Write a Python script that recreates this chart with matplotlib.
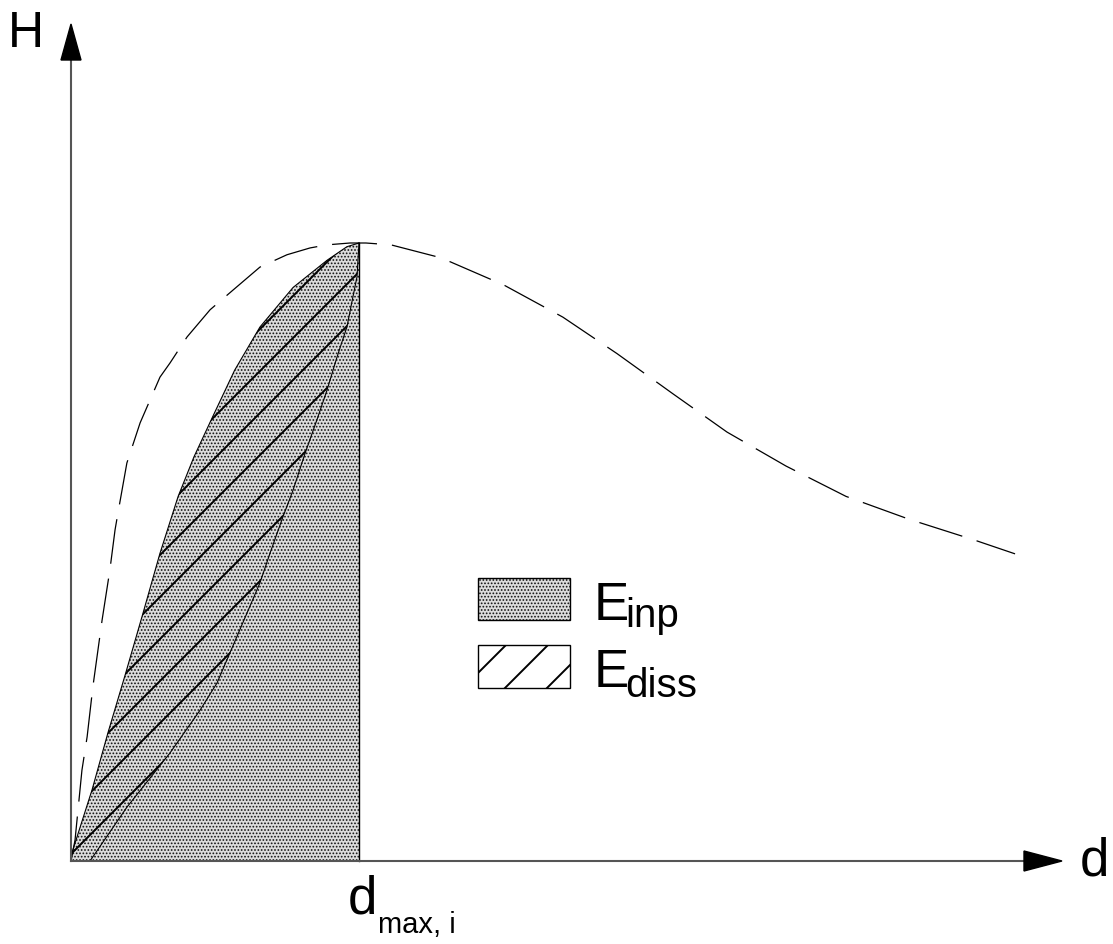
import matplotlib.pyplot as plt
from matplotlib.patches import Polygon, Rectangle
import numpy as np

plt.rcParams['font.family'] = ['Liberation Sans', 'DejaVu Sans']
plt.rcParams['hatch.linewidth'] = 0.8

# data, normalised: d / d_max and H / H_max
d_max = 1.0
H_max = 1.0

# envelope (dashed)
env_d = [0.0, 0.014, 0.038, 0.056, 0.076, 0.108, 0.135, 0.153, 0.163, 0.194,
         0.240, 0.309, 0.344, 0.403, 0.483, 0.563, 0.656, 0.750, 0.830,
         0.889, 0.969, 1.024, 1.111, 1.285, 1.503, 1.708, 1.896, 2.090,
         2.278, 2.483, 2.691, 2.910, 3.139, 3.278]
env_H = [0.0, 0.034, 0.147, 0.201, 0.282, 0.390, 0.471, 0.536, 0.563, 0.644,
         0.709, 0.783, 0.806, 0.848, 0.892, 0.924, 0.961, 0.981, 0.992,
         0.997, 1.000, 1.000, 0.997, 0.976, 0.932, 0.880, 0.821, 0.756,
         0.694, 0.639, 0.590, 0.553, 0.519, 0.497]

# loading branch
up_d = [0.0, 0.003, 0.073, 0.128, 0.188, 0.250, 0.309, 0.372, 0.427,
        0.492, 0.568, 0.656, 0.771, 0.889, 0.958, 1.0]
up_H = [0.0, 0.013, 0.115, 0.207, 0.301, 0.401, 0.498, 0.590, 0.654,
        0.719, 0.794, 0.864, 0.928, 0.972, 0.994, 1.0]

# unloading branch
down_d = [1.0, 0.993, 0.979, 0.958, 0.924, 0.889, 0.854, 0.813, 0.771, 0.736,
          0.691, 0.656, 0.552, 0.507, 0.448, 0.344, 0.194, 0.066]
down_H = [1.0, 0.945, 0.913, 0.864, 0.816, 0.762, 0.714, 0.660, 0.600, 0.557,
          0.498, 0.450, 0.337, 0.288, 0.244, 0.175, 0.087, 0.0]

# pixel -> data helpers for layout
X0, Y0, SX, SY = 71, 861, 288, 618
def px(x):
    return (x - X0) / SX
def py(y):
    return (Y0 - y) / SY

fig = plt.figure(figsize=(11.13, 9.44), dpi=100)
ax = fig.add_axes([0, 0, 1, 1])
ax.set_xlim(px(0), px(1113))
ax.set_ylim(py(944), py(0))
ax.axis('off')

STIPPLE = dict(facecolor='#dcdcdc', edgecolor='#111111', linewidth=0, hatch='.....')

# stippled E_inp area under the loading branch
ax.fill_between(up_d, up_H, 0, zorder=1, **STIPPLE)
ax.plot([d_max, d_max], [0, H_max], color='black', lw=1.0, zorder=3)

# hysteresis loop, hatched (E_diss)
loop = Polygon(list(zip(up_d, up_H)) + list(zip(down_d, down_H)),
               closed=True, facecolor='none', edgecolor='none')
ax.add_patch(loop)
slope = SX / SY
step = 42 / SX
for k in range(10):
    d0 = px(64) - k * step
    xs = np.array([d0, d0 + 3])
    ln, = ax.plot(xs, slope * (xs - d0), color='black', lw=1.4, zorder=3)
    ln.set_clip_path(loop)

ax.plot(up_d, up_H, color='black', lw=0.8, zorder=4)
ax.plot(down_d, down_H, color='black', lw=0.8, zorder=4)

# envelope
ax.plot(env_d, env_H, color='black', lw=0.9, dashes=(36, 12), zorder=4)

# axes with arrows
ax.plot([px(71), px(71)], [py(861), py(58)], color='#555555', lw=1.5, zorder=5)
ax.plot([px(71), px(1026)], [py(861), py(861)], color='#555555', lw=1.5, zorder=5)
ax.add_patch(Polygon([(px(61), py(60)), (px(81), py(60)), (px(71), py(24))],
                     closed=True, color='black', zorder=6))
ax.add_patch(Polygon([(px(1024), py(851)), (px(1024), py(871)), (px(1062), py(861))],
                     closed=True, color='black', zorder=6))

ax.text(px(8), py(47), 'H', fontsize=36, ha='left', va='baseline')
ax.text(px(1080), py(875), 'd', fontsize=38, ha='left', va='baseline')
ax.text(px(348), py(913), 'd', fontsize=38, ha='left', va='baseline')
ax.text(px(378), py(933), 'max, i', fontsize=21, ha='left', va='baseline')

# legend
ax.add_patch(Rectangle((px(478), py(620)), 92 / SX, 42 / SY, zorder=2, **STIPPLE))
ax.add_patch(Rectangle((px(478), py(620)), 92 / SX, 42 / SY, facecolor='none',
                       edgecolor='black', linewidth=1.0, zorder=3))
box2 = Rectangle((px(478), py(688)), 92 / SX, 43 / SY, facecolor='white',
                 edgecolor='black', linewidth=1.0, zorder=3)
ax.add_patch(box2)
for k in range(4):
    d0 = px(463 + 42 * k)
    xs = np.array([d0, d0 + 1])
    ln, = ax.plot(xs, py(688) + slope * (xs - d0), color='black', lw=1.4, zorder=4)
    ln.set_clip_path(box2)

ax.text(px(594), py(620), 'E', fontsize=38, ha='left', va='baseline')
ax.text(px(625), py(627), 'inp', fontsize=29, ha='left', va='baseline')
ax.text(px(594), py(687), 'E', fontsize=38, ha='left', va='baseline')
ax.text(px(625), py(697), 'diss', fontsize=29, ha='left', va='baseline')

fig.savefig('out.png', dpi=100)
